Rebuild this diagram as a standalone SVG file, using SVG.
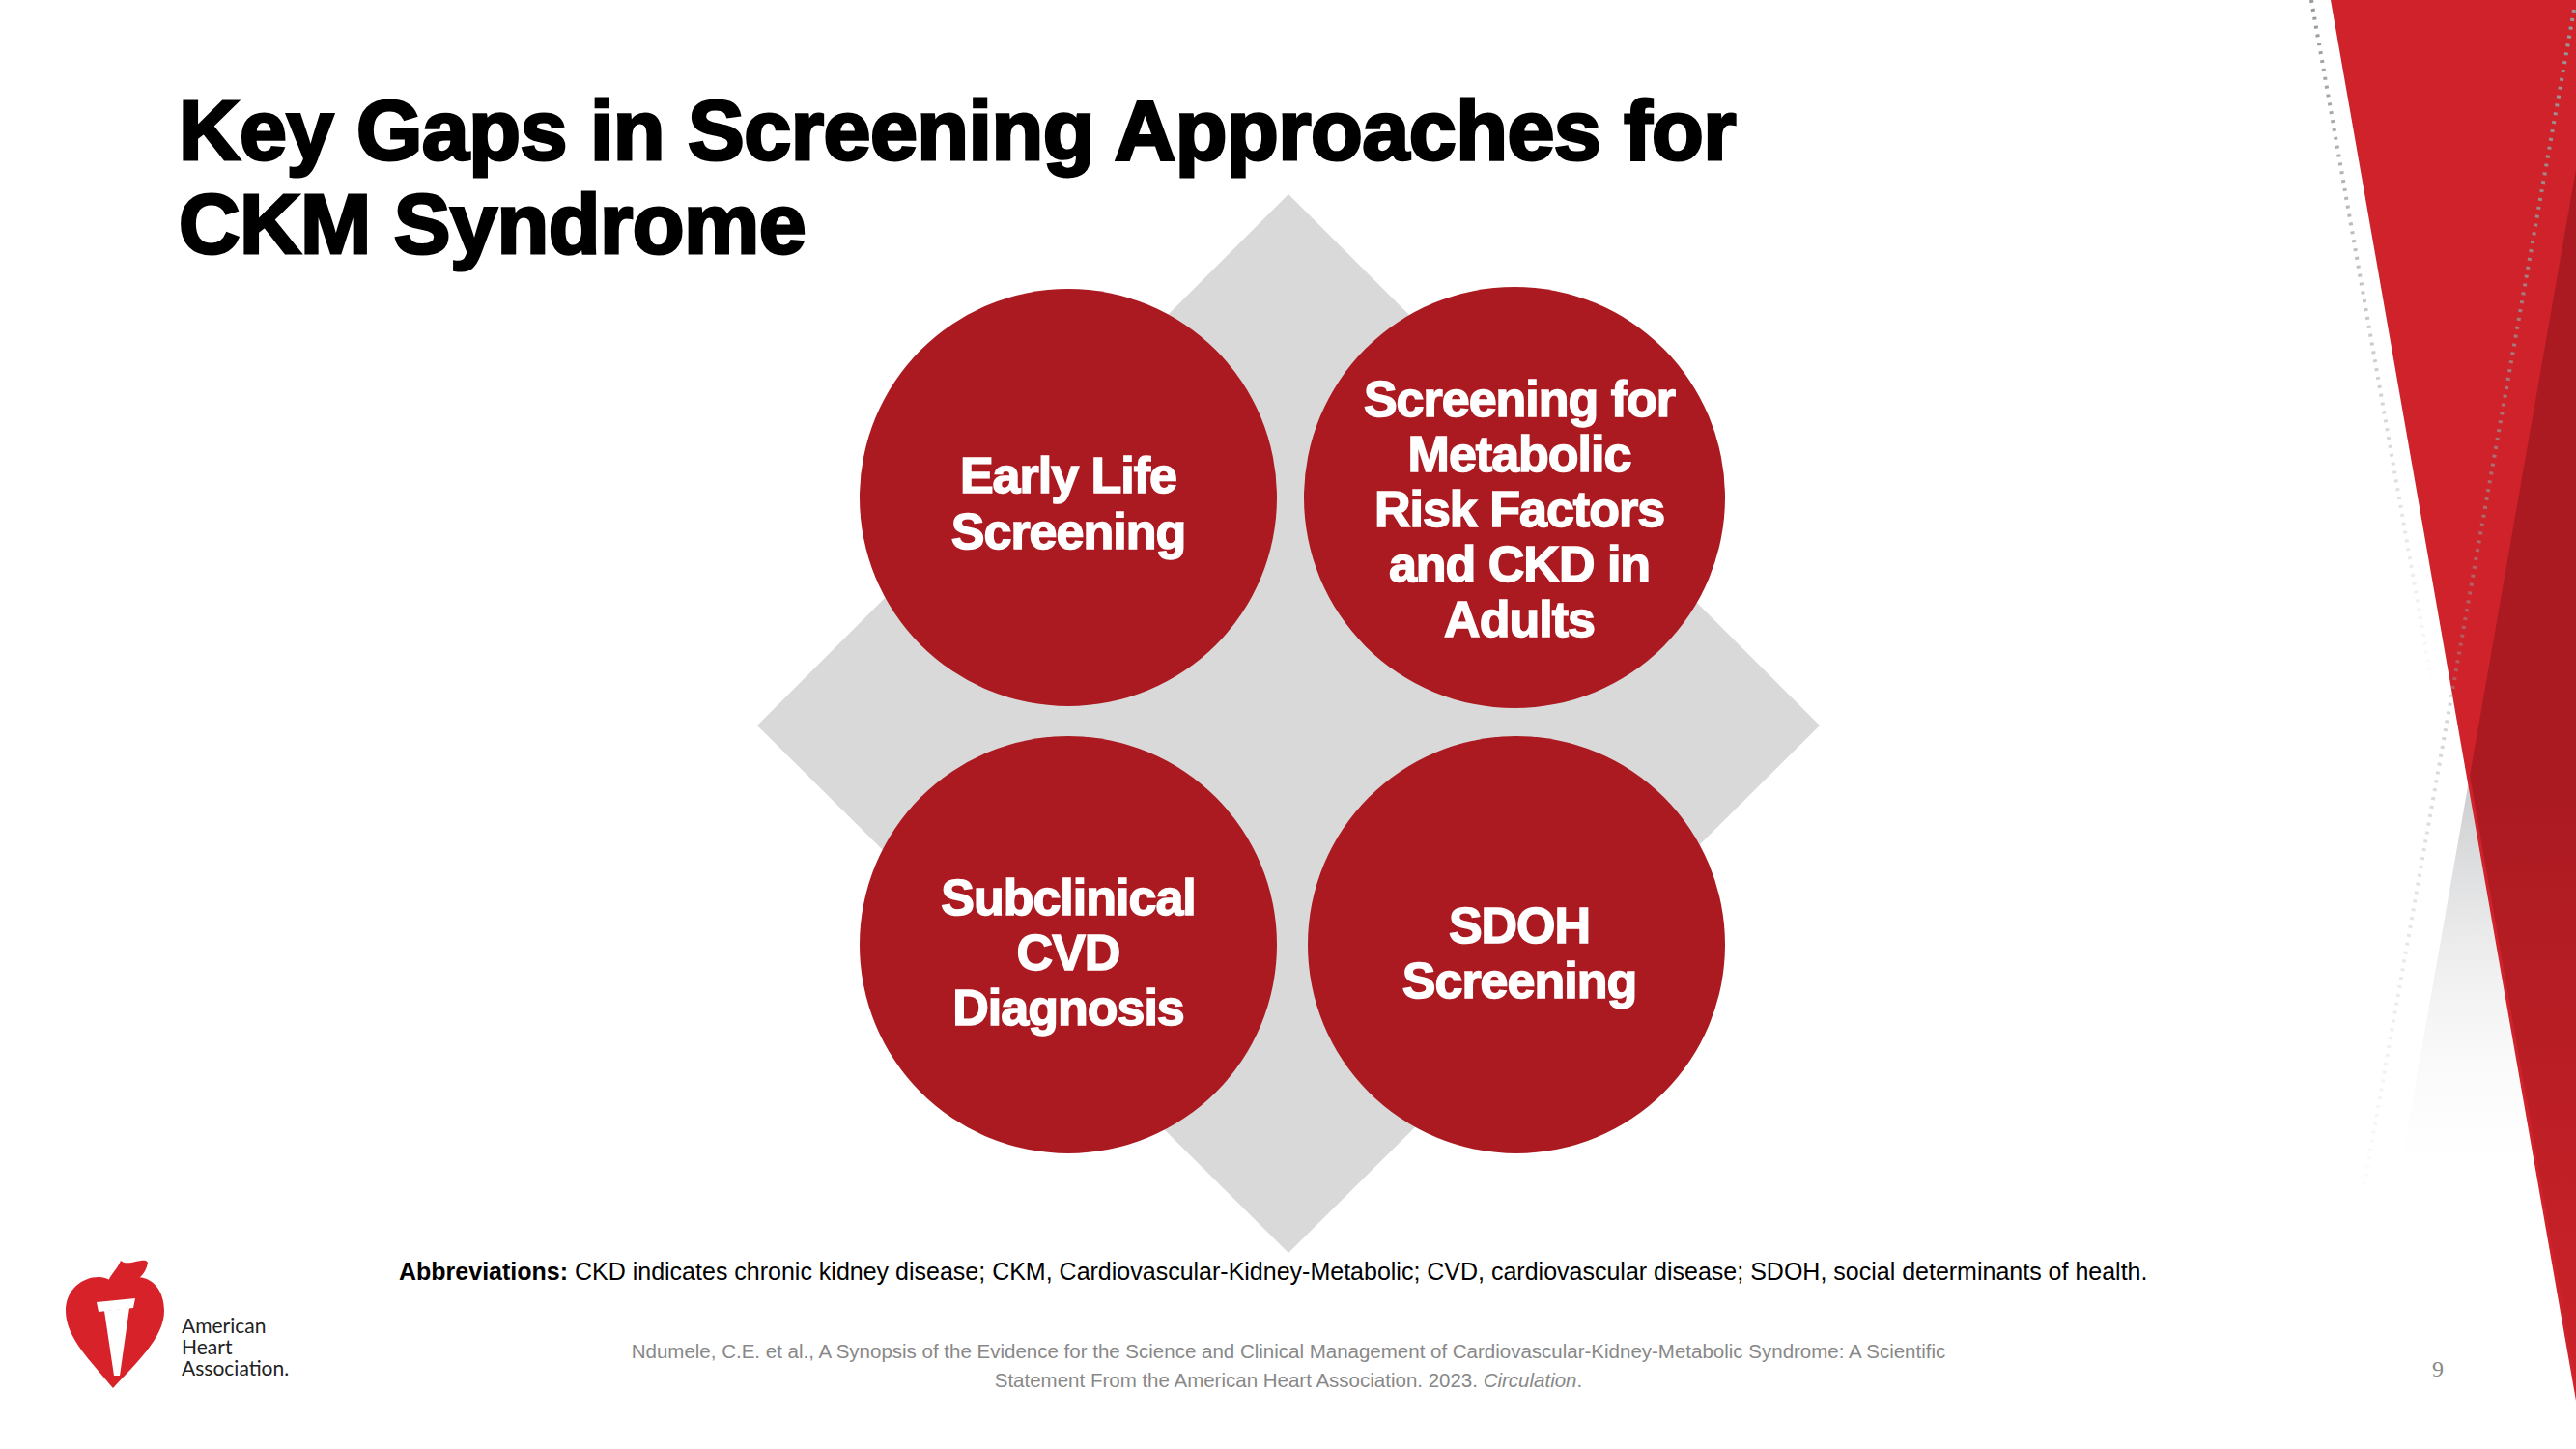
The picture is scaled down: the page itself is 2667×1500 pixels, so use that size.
<svg xmlns="http://www.w3.org/2000/svg" width="2667" height="1500" viewBox="0 0 2667 1500">
<style>
.ct{font-family:"Liberation Sans",Arial,sans-serif;font-weight:bold;font-size:52px;fill:#fff;stroke:#fff;stroke-width:1.5px;text-anchor:middle;letter-spacing:-1px}
.circ{fill:#ab1a21}
</style>
<defs>
<linearGradient id="gr" x1="0" y1="0" x2="0" y2="1"><stop offset="0" stop-color="#c9cacc"/><stop offset="1" stop-color="#fff" stop-opacity="0"/></linearGradient>
<linearGradient id="dr" x1="0" y1="0" x2="0" y2="1"><stop offset="0.5" stop-color="#ab1a21"/><stop offset="1" stop-color="#cc2229"/></linearGradient>
<linearGradient id="fd" x1="0" y1="0" x2="0" y2="1"><stop offset="0" stop-color="#999"/><stop offset="1" stop-color="#999" stop-opacity="0"/></linearGradient>
</defs>
<rect width="2667" height="1500" fill="#fff"/>
<g id="decor">
<polygon points="2557,803 2480,1240 2667,1240 2667,1000" fill="url(#gr)"/>
<polygon points="2413,0 2667,0 2667,1450" fill="#cf222b"/>
<polygon points="2667,175 2557,803 2667,1430" fill="url(#dr)"/>
<line x1="2393" y1="0" x2="2520" y2="720" stroke="url(#fd)" stroke-width="4" stroke-dasharray="3,6"/>
<line x1="2665" y1="10" x2="2440" y2="1270" stroke="url(#fd)" stroke-width="4" stroke-dasharray="3,6"/>
<text x="2524" y="1425" font-family="Liberation Serif,serif" font-size="24" fill="#888" text-anchor="middle">9</text>
</g>
<g id="title" font-family="Liberation Sans,Arial,sans-serif" font-weight="bold" font-size="88" fill="#000" stroke="#000" stroke-width="3" letter-spacing="-0.5">
<text x="185" y="165">Key Gaps in Screening Approaches for</text>
<text x="185" y="262">CKM Syndrome</text>
</g>
<polygon id="diamond" points="1334,201 1884,751 1334,1297 784,751" fill="#d9d9d9"/>
<g id="n1"><circle class="circ" cx="1106" cy="515" r="216"/><text class="ct" x="1106" y="510">Early Life</text><text class="ct" x="1106" y="568">Screening</text></g>
<g id="n2"><circle class="circ" cx="1568" cy="515" r="218"/><text class="ct" x="1573" y="431">Screening for</text><text class="ct" x="1573" y="488">Metabolic</text><text class="ct" x="1573" y="545">Risk Factors</text><text class="ct" x="1573" y="602">and CKD in</text><text class="ct" x="1573" y="659">Adults</text></g>
<g id="n3"><circle class="circ" cx="1106" cy="978" r="216"/><text class="ct" x="1106" y="947">Subclinical</text><text class="ct" x="1106" y="1004">CVD</text><text class="ct" x="1106" y="1061">Diagnosis</text></g>
<g id="n4"><circle class="circ" cx="1570" cy="978" r="216"/><text class="ct" x="1573" y="976">SDOH</text><text class="ct" x="1573" y="1033">Screening</text></g>
<g id="connectors"/>
<text x="413" y="1325" font-family="Liberation Sans,Arial,sans-serif" font-size="25" fill="#000"><tspan font-weight="bold">Abbreviations:</tspan> CKD indicates chronic kidney disease; CKM, Cardiovascular-Kidney-Metabolic; CVD, cardiovascular disease; SDOH, social determinants of health.</text>
<g font-family="Liberation Sans,Arial,sans-serif" font-size="20.5" fill="#888" text-anchor="middle">
<text x="1334" y="1406">Ndumele, C.E. et al., A Synopsis of the Evidence for the Science and Clinical Management of Cardiovascular-Kidney-Metabolic Syndrome: A Scientific</text>
<text x="1334" y="1436">Statement From the American Heart Association. 2023. <tspan font-style="italic">Circulation</tspan>.</text>
</g>
<g id="logo">
<path d="M117,1437 C95,1410 68,1385 68,1357 C68,1335 85,1322 102,1322 C112,1322 118,1328 120,1332 C124,1326 132,1322 142,1322 C158,1322 170,1336 170,1357 C170,1385 140,1412 117,1437 Z" fill="#d8222a"/>
<path d="M108,1357 L134,1354 L124,1424 L118,1424 Z" fill="#fff"/>
<path d="M100,1348 L140,1344 L138,1354 L102,1358 Z" fill="#fff"/>
<path d="M112,1340 C106,1325 120,1318 125,1305 C132,1312 150,1300 153,1307 C150,1325 135,1325 130,1342 Z" fill="#d8222a"/>
<g font-family="Lato,'Liberation Sans',sans-serif" font-size="21" fill="#222"><text x="188" y="1380">American</text><text x="188" y="1402">Heart</text><text x="188" y="1424">Association.</text></g>
</g>
</svg>
